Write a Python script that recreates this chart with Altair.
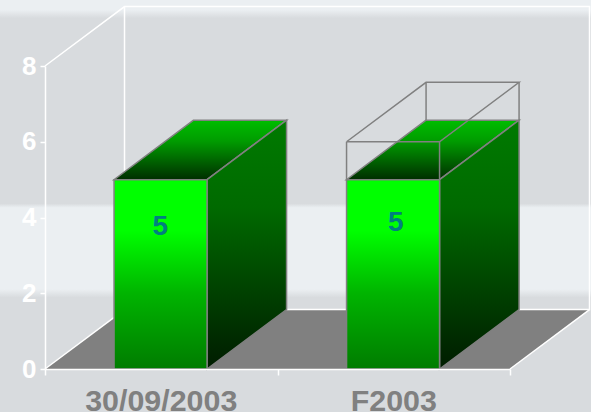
import altair as alt
import pandas as pd

# Chart content
categories = ["30/09/2003", "F2003"]
values = [5, 5]
outline_values = [None, 6]
y_ticks = [0, 2, 4, 6, 8]
x_ticks = [0, 1, 2]

# Oblique projection of the depth axis, in data units
DEPTH_X = 0.342
DEPTH_Y = 1.57
BAR_CENTER = 0.497
BAR_HALF = 0.2
FONT = "Liberation Sans"
GREY = "#808080"
WHITE = "#ffffff"

x_scale = alt.Scale(domain=[0, 2], nice=False, zero=False)
y_scale = alt.Scale(domain=[0, 8], nice=False, zero=False)


def vertical(stops):
    return alt.Gradient(
        gradient="linear",
        x1=0, x2=0, y1=0, y2=1,
        stops=[alt.GradientStop(offset=o, color=c) for o, c in stops],
    )


X = alt.X("x:Q", scale=x_scale, title=None)
Y = alt.Y("y:Q", scale=y_scale, title=None)

# Page backdrop with its two pale bands
backdrop = alt.Chart(pd.DataFrame({"a": [0]})).mark_rect(
    fill=vertical([
        (0.0, "#ebeff2"), (0.024, "#ebeff2"), (0.044, "#d8dbde"),
        (0.494, "#d8dbde"), (0.504, "#ebeff2"),
        (0.702, "#ebeff2"), (0.722, "#d8dbde"), (1.0, "#d8dbde"),
    ])
).encode(
    x=alt.value(-45), x2=alt.value(546), y=alt.value(-66), y2=alt.value(346)
)

# Floor of the 3D box
floor_rows = pd.DataFrame([
    {"x": 0, "x2": 2, "y": 0},
    {"x": DEPTH_X, "x2": 2 + DEPTH_X, "y": DEPTH_Y},
])
floor = alt.Chart(floor_rows).mark_area(orient="horizontal", fill=GREY).encode(
    x=X, x2="x2:Q", y=Y,
)

# White frame of the walls and floor
frame_paths = {
    "wall_top": [(0, 8), (DEPTH_X, 8 + DEPTH_Y), (2 + DEPTH_X, 8 + DEPTH_Y),
                 (2 + DEPTH_X, DEPTH_Y), (DEPTH_X, DEPTH_Y), (DEPTH_X, 8 + DEPTH_Y)],
    "floor_left": [(0, 0), (DEPTH_X, DEPTH_Y)],
    "floor_right": [(2, 0), (2 + DEPTH_X, DEPTH_Y)],
}
frame_rows = [
    {"path": name, "i": i, "x": px, "y": py}
    for name, pts in frame_paths.items()
    for i, (px, py) in enumerate(pts)
]
frame = alt.Chart(pd.DataFrame(frame_rows)).mark_line(
    color=WHITE, strokeWidth=1.5
).encode(x=X, y=Y, detail="path:N", order="i:Q")

# One 3D bar per category
front_rows, side_rows, top_rows, wire_rows = [], [], [], []
for idx, (name, val, target) in enumerate(zip(categories, values, outline_values)):
    left = idx + BAR_CENTER - BAR_HALF
    right = idx + BAR_CENTER + BAR_HALF
    front_rows.append({"cat": name, "x": left, "x2": right, "y": 0, "y2": val})
    side_rows += [
        {"cat": name, "x": right, "y": val, "y2": 0},
        {"cat": name, "x": right + DEPTH_X, "y": val + DEPTH_Y, "y2": DEPTH_Y},
    ]
    top_rows += [
        {"cat": name, "y": val, "x": left, "x2": right},
        {"cat": name, "y": val + DEPTH_Y, "x": left + DEPTH_X, "x2": right + DEPTH_X},
    ]
    if target is not None:
        # Wireframe of the taller outlined box
        wire_paths = {
            "top": [(left, target), (right, target),
                    (right + DEPTH_X, target + DEPTH_Y),
                    (left + DEPTH_X, target + DEPTH_Y), (left, target)],
            "a": [(left, val), (left, target)],
            "b": [(right, val), (right, target)],
            "c": [(right + DEPTH_X, val + DEPTH_Y), (right + DEPTH_X, target + DEPTH_Y)],
            "d": [(left + DEPTH_X, val + DEPTH_Y), (left + DEPTH_X, target + DEPTH_Y)],
        }
        for key, pts in wire_paths.items():
            for i, (px, py) in enumerate(pts):
                wire_rows.append({"path": f"{name}-{key}", "i": i, "x": px, "y": py})

side_layers = [
    alt.Chart(pd.DataFrame(side_rows)).transform_filter(
        alt.datum.cat == name
    ).mark_area(
        stroke=GREY, strokeWidth=1.5,
        fill=vertical([(0.0, "#007a00"), (0.35, "#006a00"), (1.0, "#001c00")]),
    ).encode(x=X, y=Y, y2="y2:Q")
    for name in categories
]
top_layers = [
    alt.Chart(pd.DataFrame(top_rows)).transform_filter(
        alt.datum.cat == name
    ).mark_area(
        orient="horizontal", stroke=GREY, strokeWidth=1.5,
        fill=vertical([(0.0, "#00bd00"), (0.35, "#009c00"), (1.0, "#002e00")]),
    ).encode(x=X, x2="x2:Q", y=Y)
    for name in categories
]
front = alt.Chart(pd.DataFrame(front_rows)).mark_rect(
    stroke=GREY, strokeWidth=1.5,
    fill=vertical([(0.0, "#00ff00"), (0.27, "#00ff00"), (0.6, "#00b400"), (1.0, "#007c00")]),
).encode(x=X, x2="x2:Q", y=Y, y2="y2:Q")

wire = alt.Chart(pd.DataFrame(wire_rows)).mark_line(
    color=GREY, strokeWidth=1.5
).encode(x=X, y=Y, detail="path:N", order="i:Q")


def value_label(idx, shift_x, shift_y):
    # Value printed on the bar's front face
    row = pd.DataFrame({
        "x": [idx + 0.5], "y": [values[idx] / 2], "label": [str(values[idx])]
    })
    return alt.Chart(row).mark_text(
        font=FONT, fontWeight="bold", fontSize=28, color="#008080",
        baseline="middle", dx=shift_x, dy=shift_y,
    ).encode(x=X, y=Y, text="label:N")


cat_labels = alt.Chart(pd.DataFrame({
    "x": [i + 0.5 for i in range(len(categories))],
    "y": [0] * len(categories),
    "label": categories,
})).mark_text(
    font=FONT, fontWeight="bold", fontSize=30.4, color=GREY,
    baseline="alphabetic", dy=41.5,
).encode(x=X, y=Y, text="label:N")

# Real axes sit on top of the backdrop, carrying the tick marks and y labels
axes = alt.Chart(pd.DataFrame({"x": [0], "y": [0]})).mark_point(opacity=0).encode(
    x=alt.X("x:Q", scale=x_scale, title=None, axis=alt.Axis(
        values=x_ticks, labels=False, grid=False, zindex=1,
        domainColor=WHITE, domainWidth=1.5, tickColor=WHITE, tickWidth=1.5, tickSize=6,
    )),
    y=alt.Y("y:Q", scale=y_scale, title=None, axis=alt.Axis(
        values=y_ticks, grid=False, zindex=1, format="d",
        domainColor=WHITE, domainWidth=1.5, tickColor=WHITE, tickWidth=1.5, tickSize=5,
        labelColor=WHITE, labelFont=FONT, labelFontWeight="bold", labelFontSize=26,
        labelPadding=4,
    )),
)

chart = alt.layer(
    backdrop, axes, floor, frame,
    *top_layers, *side_layers, front, wire,
    value_label(0, -1, -47), value_label(1, 2, -51), cat_labels,
).properties(
    width=465, height=303,
    padding={"left": 45, "top": 66, "right": 81, "bottom": 43},
    autosize=alt.AutoSizeParams(type="none"),
).configure_view(stroke=None)

chart.save("out.html", embed_options={"renderer": "svg", "actions": False})
